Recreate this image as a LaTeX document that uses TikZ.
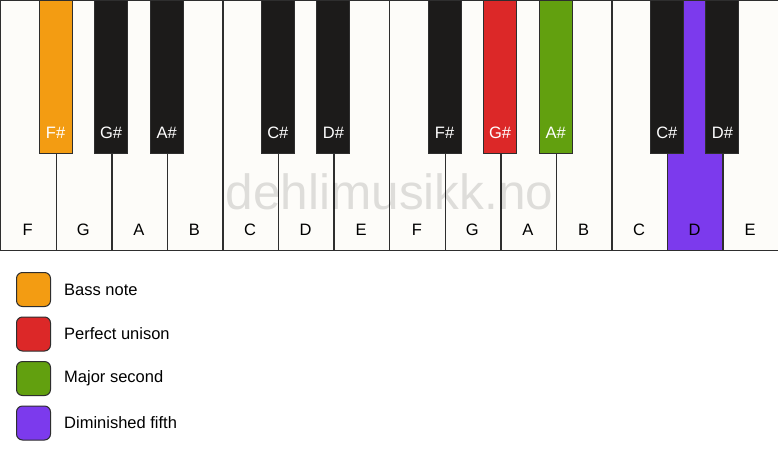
\documentclass[tikz,border=0pt]{standalone}
\usepackage{fontspec}
\setmainfont{Liberation Sans}
\definecolor{keywhite}{HTML}{FDFCF9}
\definecolor{keyblack}{HTML}{1C1B1A}
\definecolor{keyline}{HTML}{2E2E2E}
\definecolor{cbass}{HTML}{F39C12}
\definecolor{cunison}{HTML}{DC2828}
\definecolor{csecond}{HTML}{62A00F}
\definecolor{cfifth}{HTML}{7C3AED}
\tikzset{
  whitekey/.style={draw=keyline, line width=1.4pt, fill=keywhite, rectangle, minimum width=55.571pt, minimum height=250pt, anchor=north west, inner sep=0pt},
  blackkey/.style={draw=keyline, line width=1pt, fill=keyblack, rectangle, minimum width=33pt, minimum height=153pt, anchor=north, inner sep=0pt},
  wlabel/.style={font=\fontsize{16.5}{16.5}\selectfont, text=black, inner sep=0pt},
  blabel/.style={font=\fontsize{16.5}{16.5}\selectfont, text=white, inner sep=0pt},
  legendbox/.style={draw=keyline, line width=1pt, rounded corners=6pt, minimum width=34pt, minimum height=34pt, anchor=north west, inner sep=0pt},
  legendtext/.style={font=\fontsize{16.5}{16.5}\selectfont, anchor=west, inner sep=0pt},
}
\begin{document}
\begin{tikzpicture}[x=1pt,y=-1pt]
\fill[white] (0,0) rectangle (778,461);
\useasboundingbox (0,0) rectangle (778,461);
% white keys
\foreach \i/\n/\c in {0/F/keywhite,1/G/keywhite,2/A/keywhite,3/B/keywhite,4/C/keywhite,5/D/keywhite,6/E/keywhite,7/F/keywhite,8/G/keywhite,9/A/keywhite,10/B/keywhite,11/C/keywhite,12/D/cfifth,13/E/keywhite}{
  \node[whitekey, fill=\c] (w\i) at ({\i*55.571},0) {};
}
% watermark
\node[font=\fontsize{49.5}{49.5}\selectfont, text=black, opacity=0.12, inner sep=0pt] (wm) at (389.5,192) {dehlimusikk.no};
\foreach \i/\n in {0/F,1/G,2/A,3/B,4/C,5/D,6/E,7/F,8/G,9/A,10/B,11/C,12/D,13/E}{
  \node[wlabel] (wl\i) at ({(\i+0.5)*55.571},230) {\n};
}
% black keys
\foreach \j/\n/\c in {1/F\#/cbass,2/G\#/keyblack,3/A\#/keyblack,5/C\#/keyblack,6/D\#/keyblack,8/F\#/keyblack,9/G\#/cunison,10/A\#/csecond,12/C\#/keyblack,13/D\#/keyblack}{
  \node[blackkey, fill=\c] (b\j) at ({\j*55.571},0) {};
  \node[blabel] (bl\j) at ({\j*55.571},133) {\n};
}
% legend
\node[legendbox, fill=cbass] (lg1) at (16,272) {};
\node[legendtext] (lt1) at (64,289.5) {Bass note};
\node[legendbox, fill=cunison] (lg2) at (16,316.5) {};
\node[legendtext] (lt2) at (64,334) {Perfect unison};
\node[legendbox, fill=csecond] (lg3) at (16,361) {};
\node[legendtext] (lt3) at (64,378.5) {Major second};
\node[legendbox, fill=cfifth] (lg4) at (16,405.5) {};
\node[legendtext] (lt4) at (64,423) {Diminished fifth};
\end{tikzpicture}
\end{document}
